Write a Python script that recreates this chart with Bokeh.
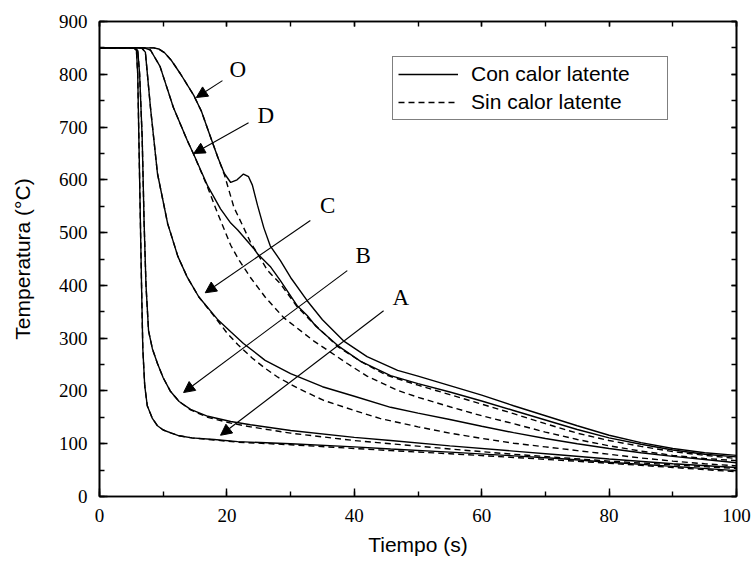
from bokeh.plotting import figure
from bokeh.models import (ColumnDataSource, Arrow, NormalHead, Legend, LegendItem,
                          LinearAxis, SingleIntervalTicker)
from bokeh.core.properties import value
from bokeh.embed import file_html
from bokeh.resources import INLINE

# ---- data: time (s) / temperature (°C) ----
# O (con calor latente / sin calor latente)
o_t = [0, 8.5, 9.3, 10.2, 11.3, 12.7, 14.8, 16.0, 17.4, 18.6, 19.6, 20.6, 21.6, 22.6, 23.4, 24.0, 24.8, 25.8, 26.8, 28.4, 30, 32.6, 35, 38.3, 42, 46.8, 50, 55, 60, 65, 70, 75, 80, 85, 90, 95, 100]
o_T = [850, 850, 848, 841, 826, 801, 760, 730, 682, 642, 612, 595, 600, 611, 606, 590, 552, 509, 475, 447, 415, 371, 335, 295, 265, 239, 228, 210, 192, 172, 153, 134, 116, 102, 91, 83, 78]
od_t = [0, 8.5, 9.3, 10.2, 11.3, 12.7, 14.8, 16.0, 17.4, 18.6, 19.6, 21.1, 23.7, 26.4, 28.4, 31, 33, 37.4, 41, 45, 50, 55, 60, 65, 70, 75, 80, 85, 90, 95, 100]
od_T = [850, 850, 848, 841, 826, 801, 760, 730, 682, 642, 610, 548, 482, 428, 403, 360, 335, 284, 256, 230, 211, 193, 175, 157, 138, 120, 106, 95, 85, 78, 72]

# D
d_t = [0, 7.0, 8.0, 9.5, 11.6, 13.8, 14.8, 17.0, 19.0, 20.6, 21.7, 24.2, 24.8, 26.8, 28.4, 31, 32.6, 34, 37.4, 41, 45.7, 50, 55, 60, 65, 70, 75, 80, 85, 90, 95, 100]
d_T = [850, 850, 846, 815, 737, 674, 648, 588, 545, 518, 505, 470, 460, 436, 409, 362, 343, 322, 286, 256, 229, 214, 198, 181, 163, 145, 127, 111, 99, 88, 80, 75]
dd_t = [0, 7.0, 8.0, 9.5, 11.6, 13.8, 14.8, 17.0, 18.5, 20.6, 21.8, 23.7, 26, 28.9, 33.6, 38.9, 42, 46.8, 50, 55, 60, 65, 70, 75, 80, 85, 90, 95, 100]
dd_T = [850, 850, 846, 815, 737, 674, 648, 585, 538, 476, 450, 415, 378, 339, 295, 252, 228, 201, 188, 170, 153, 138, 122, 108, 96, 86, 78, 72, 68]

# C
c_t = [0, 6.6, 7.2, 8.0, 9.1, 10.7, 12.3, 13.8, 15.6, 18.5, 20.6, 22.6, 26, 30, 35, 40, 45.7, 50, 55, 60, 65, 70, 75, 80, 85, 90, 95, 100]
c_T = [850, 850, 842, 737, 612, 517, 455, 415, 378, 336, 312, 290, 258, 233, 208, 190, 169, 158, 146, 133, 121, 110, 100, 91, 83, 76, 70, 64]
cd_t = [0, 6.6, 7.2, 8.0, 9.1, 10.7, 12.3, 13.8, 15.6, 18.5, 20, 21.7, 24, 26, 28, 31, 35.2, 40, 44, 50, 55, 60, 65, 70, 75, 80, 85, 90, 95, 100]
cd_T = [850, 850, 842, 737, 612, 517, 455, 415, 378, 334, 310, 288, 262, 243, 226, 206, 182, 163, 148, 132, 120, 110, 101, 94, 87, 80, 73, 67, 62, 58]

# B
b_t = [0, 5.6, 6.0, 6.3, 6.7, 7.0, 7.3, 7.7, 8.3, 9.1, 10.0, 11.1, 12.5, 14.3, 17, 20.6, 23.7, 30, 40, 45.7, 55, 65, 72, 80, 90, 100]
b_T = [850, 850, 845, 800, 680, 520, 400, 314, 280, 252, 225, 200, 180, 165, 152, 142, 136, 125, 112, 106, 96, 86, 79, 71, 62, 55]
bd_t = [0, 5.6, 6.0, 6.3, 6.7, 7.0, 7.3, 7.7, 8.3, 9.1, 10.0, 11.1, 12.5, 14.3, 17, 20.6, 23.7, 30, 40, 45.7, 55, 65, 72, 80, 90, 100]
bd_T = [850, 850, 845, 800, 680, 520, 400, 314, 280, 252, 225, 200, 180, 164, 150, 139, 132, 120, 106, 100, 90, 80, 74, 67, 60, 53]

# A
a_t = [0, 5.4, 5.8, 6.0, 6.3, 6.6, 6.8, 7.1, 7.5, 8.3, 9.1, 10.0, 11.3, 12.5, 14.5, 18.0, 21.7, 30, 40, 45.7, 55, 65, 72, 80, 90, 100]
a_T = [850, 850, 845, 800, 600, 400, 280, 210, 172, 148, 134, 126, 120, 115, 111, 108, 104, 100, 94, 90, 84, 77, 72, 65, 57, 49]
ad_t = [0, 5.4, 5.8, 6.0, 6.3, 6.6, 6.8, 7.1, 7.5, 8.3, 9.1, 10.0, 11.3, 12.5, 14.5, 18.0, 21.7, 30, 40, 45.7, 55, 65, 72, 80, 90, 100]
ad_T = [850, 850, 845, 800, 600, 400, 280, 210, 172, 148, 134, 126, 120, 115, 111, 107, 103, 98, 91, 87, 81, 74, 69, 63, 55, 47]

# curve labels and arrows (data units)
lab_text = ["O", "D", "C", "B", "A"]
lab_t = [21.7, 26.1, 35.8, 41.4, 47.3]
lab_T = [809, 722, 551, 456, 377]
arr_t0 = [19.3, 23.4, 33.1, 38.9, 44.6]
arr_T0 = [788, 708, 523, 428, 352]
arr_t1 = [15.2, 14.8, 16.6, 13.2, 19.0]
arr_T1 = [756, 650, 386, 197, 116]

legend_labels = ["Con calor latente", "Sin calor latente"]

# ---- figure ----
p = figure(width=752, height=563, x_range=(0, 100), y_range=(0, 900),
           output_backend="svg", toolbar_location=None,
           min_border_left=99, min_border_right=16, min_border_top=21, min_border_bottom=67)
p.xgrid.visible = False
p.ygrid.visible = False
p.outline_line_color = "black"
p.outline_line_width = 1.6
p.background_fill_color = "white"
p.border_fill_color = "white"

def style_axis(ax, labels=True):
    ax.axis_line_color = "black"
    ax.axis_line_width = 1.6
    ax.major_tick_in = 8
    ax.major_tick_out = 0
    ax.minor_tick_in = 5
    ax.minor_tick_out = 0
    ax.major_tick_line_color = "black"
    ax.minor_tick_line_color = "black"
    ax.major_tick_line_width = 1.4
    ax.minor_tick_line_width = 1.4
    ax.major_label_text_font = "Liberation Serif"
    ax.major_label_text_font_size = "19px" if labels else "0px"
    ax.major_label_text_color = "black"
    ax.major_label_standoff = 12 if labels else 0
    ax.axis_label_text_font = "Liberation Sans"
    ax.axis_label_text_font_size = "21px"
    ax.axis_label_text_font_style = "normal"
    ax.axis_label_text_color = "black"

p.xaxis.ticker = SingleIntervalTicker(interval=20, num_minor_ticks=2)
p.yaxis.ticker = SingleIntervalTicker(interval=100, num_minor_ticks=2)
p.xaxis.axis_label = "Tiempo (s)"
p.yaxis.axis_label = "Temperatura (°C)"
style_axis(p.xaxis[0])
style_axis(p.yaxis[0])
p.xaxis.axis_label_standoff = 8
p.yaxis.axis_label_standoff = 22

ra = LinearAxis(ticker=SingleIntervalTicker(interval=100, num_minor_ticks=2))
style_axis(ra, labels=False)
ra.major_tick_in = 5
p.add_layout(ra, "right")
ta = LinearAxis(ticker=SingleIntervalTicker(interval=20, num_minor_ticks=2))
style_axis(ta, labels=False)
ta.major_tick_in = 5
p.add_layout(ta, "above")

lw = 1.4
dash = "6 4"
solid_curves = [(o_t, o_T), (d_t, d_T), (c_t, c_T), (b_t, b_T), (a_t, a_T)]
dashed_curves = [(od_t, od_T), (dd_t, dd_T), (cd_t, cd_T), (bd_t, bd_T), (ad_t, ad_T)]

dash_r = []
for t, T in dashed_curves:
    dash_r.append(p.line(t, T, line_color="black", line_width=lw, line_dash=dash))
solid_r = []
for t, T in solid_curves:
    solid_r.append(p.line(t, T, line_color="black", line_width=lw))

# arrows
asrc = ColumnDataSource(dict(x0=arr_t0, y0=arr_T0, x1=arr_t1, y1=arr_T1))
p.add_layout(Arrow(end=NormalHead(size=11, fill_color="black", line_color="black", line_width=1),
                   x_start="x0", y_start="y0", x_end="x1", y_end="y1",
                   source=asrc, line_color="black", line_width=1.1))

lsrc = ColumnDataSource(dict(x=lab_t, y=lab_T, text=lab_text))
p.text(x="x", y="y", text="text", source=lsrc, text_font=value("Liberation Serif"),
       text_font_size="23px", text_align="center", text_baseline="middle", text_color="black")

legend = Legend(items=[LegendItem(label=legend_labels[0], renderers=[solid_r[2]]),
                       LegendItem(label=legend_labels[1], renderers=[dash_r[2]])],
                location=(293, 376))
legend.border_line_color = "black"
legend.border_line_width = 1.3
legend.background_fill_color = "white"
legend.background_fill_alpha = 1
legend.label_text_font = "Liberation Sans"
legend.label_text_font_size = "21px"
legend.label_text_color = "black"
legend.glyph_width = 60
legend.glyph_height = 24
legend.label_height = 24
legend.label_width = 191
legend.label_standoff = 13
legend.spacing = 4
legend.padding = 5
legend.margin = 0
p.add_layout(legend)

open("out.html", "w").write(file_html(p, INLINE))
